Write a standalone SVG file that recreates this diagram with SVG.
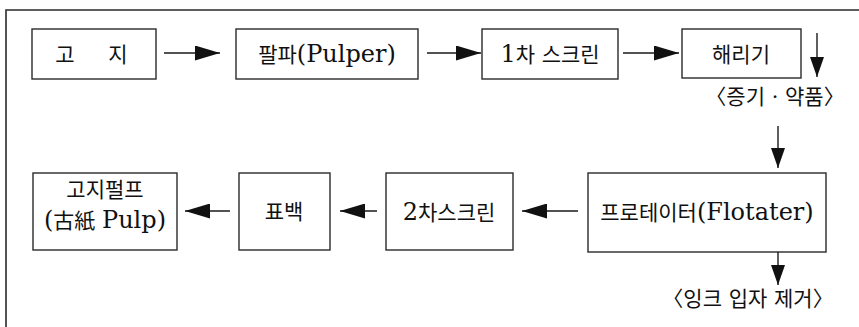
<svg xmlns="http://www.w3.org/2000/svg" width="859" height="327" viewBox="0 0 859 327">
<style>
.box{fill:#fff;stroke:#2a2a2a;stroke-width:1.4}
.frame{fill:none;stroke:#2a2a2a;stroke-width:1.6}
.ln{fill:none;stroke:#1a1a1a;stroke-width:1.4}
text{font-family:"DejaVu Serif","Noto Sans CJK KR",serif;font-size:21px;fill:#111;text-anchor:middle}
.lat{font-family:"DejaVu Serif","Liberation Serif",serif;font-size:24px}
</style>
<defs>
<marker id="ah" markerUnits="userSpaceOnUse" markerWidth="25" markerHeight="15" refX="25" refY="7.5" orient="auto"><path d="M0,0 L25,7.5 L0,15 z" fill="#111"/></marker>
<marker id="av" markerUnits="userSpaceOnUse" markerWidth="20" markerHeight="14" refX="20" refY="7" orient="auto"><path d="M0,0 L20,7 L0,14 z" fill="#111"/></marker>
</defs>
<g id="frame"><path class="frame" d="M6,327 V10 H859"/></g>
<g id="n-gozi"><rect class="box" x="32" y="29" width="124" height="50"/><text y="62"><tspan x="65">고</tspan><tspan x="118">지</tspan></text></g>
<g id="n-pulper"><rect class="box" x="236" y="29" width="182" height="50"/><text x="327" y="62">팔파<tspan class="lat">(Pulper)</tspan></text></g>
<g id="n-screen1"><rect class="box" x="482" y="29" width="136" height="50"/><text x="550" y="62"><tspan class="lat">1</tspan>차 스크린</text></g>
<g id="n-haeri"><rect class="box" x="682" y="29" width="119" height="49"/><text x="741" y="62">해리기</text></g>
<g id="n-flot"><rect class="box" x="588" y="173" width="238" height="79"/><text x="707" y="220">프로테이터<tspan class="lat">(Flotater)</tspan></text></g>
<g id="n-screen2"><rect class="box" x="386" y="173" width="127" height="77"/><text x="449" y="220"><tspan class="lat">2</tspan>차스크린</text></g>
<g id="n-bleach"><rect class="box" x="239" y="173" width="91" height="77"/><text x="284" y="219">표백</text></g>
<g id="n-pulp"><rect class="box" x="33" y="173" width="144" height="77"/><text x="105" y="197">고지펄프</text><text x="105" y="228"><tspan class="lat">(</tspan>古紙 <tspan class="lat">Pulp)</tspan></text></g>
<g id="lbl-steam"><text x="775" y="104">〈증기 · 약품〉</text></g>
<g id="lbl-ink"><text x="748" y="306">〈잉크 입자 제거〉</text></g>
<g id="connectors">
<line class="ln" x1="164" y1="53" x2="220" y2="53" marker-end="url(#ah)"/>
<line class="ln" x1="427" y1="53" x2="481" y2="53" marker-end="url(#ah)"/>
<line class="ln" x1="623" y1="53" x2="679" y2="53" marker-end="url(#ah)"/>
<line class="ln" x1="817" y1="33" x2="817" y2="77" marker-end="url(#av)"/>
<line class="ln" x1="778" y1="126" x2="778" y2="168" marker-end="url(#av)"/>
<line class="ln" x1="578" y1="211" x2="522" y2="211" marker-end="url(#ah)"/>
<line class="ln" x1="377" y1="211" x2="340" y2="211" marker-end="url(#ah)"/>
<line class="ln" x1="230" y1="211" x2="185" y2="211" marker-end="url(#ah)"/>
<line class="ln" x1="778" y1="252" x2="778" y2="285" marker-end="url(#av)"/>
</g>
</svg>
